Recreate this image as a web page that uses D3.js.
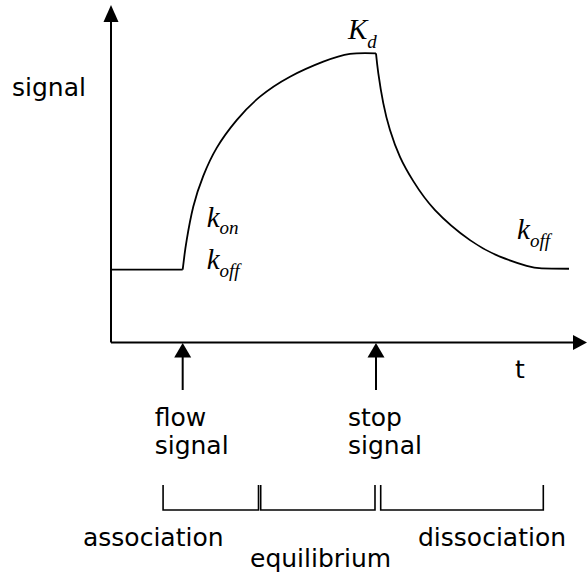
<!DOCTYPE html>
<html>
<head>
<meta charset="utf-8">
<script src="https://cdn.jsdelivr.net/npm/d3@7"></script>
<style>
  body { margin: 0; background: #fff; }
  svg { display: block; }
  .lbl { font-family: "DejaVu Sans", Verdana, sans-serif; font-size: 25px; fill: #000; }
  .math { font-family: "Liberation Serif", "Times New Roman", serif; font-style: italic; fill: #000; }
</style>
</head>
<body>
<svg id="chart"></svg>
<script>
// sensorgram: time (0-100) vs relative signal (0-1)
var baseT   = [0, 15.06]
var baseS   = [0.252, 0.252]
var riseT   = [15.06, 15.44, 15.9, 17.29, 19.39, 22.21, 26.41, 31.3, 37.61, 44.6, 50.21, 55.67]
var riseS   = [0.252, 0.303, 0.354, 0.47, 0.576, 0.673, 0.769, 0.85, 0.919, 0.971, 0.998, 1]
var decayT  = [55.67, 56.16, 57.21, 58.61, 60.71, 63.51, 68.07, 75.42, 81.72, 87.33, 90.48, 96.22]
var decayS  = [1, 0.931, 0.827, 0.735, 0.642, 0.558, 0.458, 0.354, 0.297, 0.265, 0.256, 0.255]

var events  = ['flow signal', 'stop signal']
var eventT  = [15.06, 55.67]

var phases  = ['association', 'equilibrium', 'dissociation']
var phaseT0 = [10.94, 31.45, 56.66]
var phaseT1 = [30.99, 55.46, 90.82]

var width = 587, height = 577

var svg = d3.select('#chart').attr('width', width).attr('height', height)

var x = d3.scaleLinear().domain([0, 100]).range([111, 587])
var y = d3.scaleLinear().domain([0, 1]).range([342.5, 53.3])

var x0 = x(0), y0 = y(0)

// axes with arrow heads
svg.append('path')
  .attr('d', `M ${x0} ${y0} V 18`)
  .attr('stroke', '#000').attr('stroke-width', 2).attr('fill', 'none')
svg.append('path')
  .attr('d', `M ${x0} 5 L ${x0 - 7.5} 22 L ${x0 + 7.5} 22 Z`)
  .attr('fill', '#000')

svg.append('path')
  .attr('d', `M ${x0} ${y0} H ${width - 10}`)
  .attr('stroke', '#000').attr('stroke-width', 2).attr('fill', 'none')
svg.append('path')
  .attr('d', `M ${x(100)} ${y0} L ${x(100) - 14} ${y0 - 7.5} L ${x(100) - 14} ${y0 + 7.5} Z`)
  .attr('fill', '#000')

svg.append('text').attr('class', 'lbl').attr('x', 12).attr('y', 96).text('signal')
svg.append('text').attr('class', 'lbl').attr('x', 515).attr('y', 378).text('t')

// the curve: flat baseline, association rise, dissociation decay
var line = d3.line()
  .x(d => x(d[0]))
  .y(d => y(d[1]))
  .curve(d3.curveNatural)

;[[baseT, baseS], [riseT, riseS], [decayT, decayS]].forEach(([ts, ss]) => {
  svg.append('path')
    .datum(d3.zip(ts, ss))
    .attr('d', line)
    .attr('fill', 'none')
    .attr('stroke', '#000')
    .attr('stroke-width', 1.8)
    .attr('stroke-linejoin', 'round')
})

// event arrows under the axis
var ev = svg.selectAll('g.event').data(events).join('g').attr('class', 'event')
  .attr('transform', (d, i) => `translate(${x(eventT[i])},0)`)

ev.append('path')
  .attr('d', `M 0 390 V 352`)
  .attr('stroke', '#000').attr('stroke-width', 2)
ev.append('path')
  .attr('d', `M 0 ${y0 + 0.5} L -8.5 ${y0 + 15} L 8.5 ${y0 + 15} Z`)
  .attr('fill', '#000')

ev.each(function(d){
  var words = d.split(' ')
  d3.select(this).selectAll('text').data(words).join('text')
    .attr('class', 'lbl')
    .attr('x', -28)
    .attr('y', (w, j) => 426 + j*28)
    .text(w => w)
})

// phase brackets
var br = svg.selectAll('g.phase').data(phases).join('g').attr('class', 'phase')

br.append('path')
  .attr('d', (d, i) => `M ${x(phaseT0[i])} 485 V 510 H ${x(phaseT1[i])} V 485`)
  .attr('fill', 'none').attr('stroke', '#000').attr('stroke-width', 1.6)

var phaseLabelX = [83, 250, 418]
var phaseLabelY = [546, 567, 546]
br.append('text')
  .attr('class', 'lbl')
  .attr('x', (d, i) => phaseLabelX[i])
  .attr('y', (d, i) => phaseLabelY[i])
  .text(d => d)

// rate constants in math italic
function mathLabel(main, sub, px, py, subDy){
  var t = svg.append('text').attr('class', 'math').attr('x', px).attr('y', py)
  t.append('tspan').style('font-size', '29px').text(main)
  t.append('tspan').style('font-size', '19px').attr('dy', subDy).text(sub)
}

var xf = x(eventT[0]), xs = x(eventT[1])
mathLabel('k', 'on', xf + 24, 227, 7)
mathLabel('k', 'off', xf + 24, 269, 8)
mathLabel('K', 'd', xs - 28, 39, 9)
mathLabel('k', 'off', x(85.3), 239, 8)
</script>
</body>
</html>
